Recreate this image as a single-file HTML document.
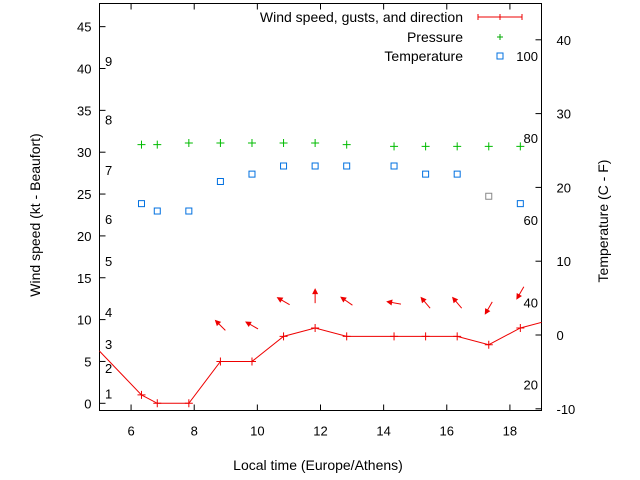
<!DOCTYPE html>
<html><head><meta charset="utf-8"><style>
body{margin:0;background:#fff;}
svg{display:block;font-family:"Liberation Sans",sans-serif;}
</style></head><body>
<svg id="chart" width="640" height="480" xmlns="http://www.w3.org/2000/svg">
<g id="grid"></g>
<g id="marks"></g>
</svg>
<script>
const times=[6.33,6.83,7.83,8.83,9.83,10.83,11.83,12.83,14.33,15.33,16.33,17.33,18.33];
const windTimes=[4.83,6.33,6.83,7.83,8.83,9.83,10.83,11.83,12.83,14.33,15.33,16.33,17.33,18.33,19.33];
const windSpeed=[6.9,1,0,0,5,5,8,9,8,8,8,8,7,9,10];
const pressure=[30.9,30.9,31.1,31.1,31.1,31.1,31.1,30.9,30.7,30.7,30.7,30.7,30.7];
const temperature=[17.8,16.8,16.8,20.8,21.8,22.9,22.9,22.9,22.9,21.8,21.8,18.8,17.8];
const arrowTimes=[8.83,9.83,10.83,11.83,12.83,14.33,15.33,16.33,17.33,18.33];
const arrowLevel=[9.3,9.3,12.2,12.8,12.2,12.0,12.0,12.0,11.4,13.2];
const arrowDir=[315,300,300,0,305,280,320,320,210,210];
const xTicks=[6,8,10,12,14,16,18];
const yTicks=[0,5,10,15,20,25,30,35,40,45];
const y2Ticks=[-10,0,10,20,30,40];
const beaufortLabels=["1","2","3","4","5","6","7","8","9"];
const beaufortKt=[1.2,4.2,7.1,10.9,17,22,27.9,33.9,40.9];
const fLabels=["20","40","60","80","100"];
const fValues=[-6.7,4.4,15.6,26.7,37.8];

const L=99.5,R=541.5,T=3.5,B=410.5;
const X=t=>L+(t-5)*31.57;
const Y=v=>403.3-v*8.37;
const Y2=c=>335-c*7.38;
const NS="http://www.w3.org/2000/svg";
const g=document.getElementById('grid'),m=document.getElementById('marks');
function el(tag,attrs,parent,txt){const e=document.createElementNS(NS,tag);for(const k in attrs)e.setAttribute(k,attrs[k]);if(txt!=null)e.textContent=txt;parent.appendChild(e);return e;}

let e=el('rect',{x:L,y:T,width:R-L,height:B-T,fill:'none',stroke:'#000','stroke-width':1},g);


xTicks.forEach(t=>{const x=X(t);
 el('line',{x1:x,y1:B,x2:x,y2:B-6,stroke:'#000'},g);
 el('line',{x1:x,y1:T,x2:x,y2:T+6,stroke:'#000'},g);
 const tx=el('text',{x:x,y:B+25,'text-anchor':'middle','font-size':13},g,String(t));
 
 
});
yTicks.forEach(v=>{const y=Y(v);
 el('line',{x1:L,y1:y,x2:L+6,y2:y,stroke:'#000'},g);
 const tx=el('text',{x:L-8,y:y+5,'text-anchor':'end','font-size':13},g,String(v));
 
 
});
y2Ticks.forEach(v=>{const y=Y2(v);
 el('line',{x1:R,y1:y,x2:R-6,y2:y,stroke:'#000'},g);
 const tx=el('text',{x:R+15,y:y+5,'text-anchor':'start','font-size':13},g,String(v));
 
 
});
beaufortLabels.forEach((s,i)=>{const tx=el('text',{x:105,y:Y(beaufortKt[i])+5,'font-size':13},g,s);
 
 });
fLabels.forEach((s,i)=>{const tx=el('text',{x:538,y:Y2(fValues[i])+5,'text-anchor':'end','font-size':13},g,s);
 
 });
let t1=el('text',{x:318,y:470,'text-anchor':'middle','font-size':14},g,'Local time (Europe/Athens)');


let t2=el('text',{x:40,y:215,'text-anchor':'middle','font-size':14,transform:'rotate(-90 40 215)'},g,'Wind speed (kt - Beaufort)');


let t3=el('text',{x:608,y:221,'text-anchor':'middle','font-size':14,transform:'rotate(-90 608 221)'},g,'Temperature (C - F)');



const lg=el('g',{},g);


el('text',{x:463,y:22,'text-anchor':'end','font-size':14},lg,'Wind speed, gusts, and direction');
el('text',{x:463,y:42,'text-anchor':'end','font-size':14},lg,'Pressure');
el('text',{x:463,y:61,'text-anchor':'end','font-size':14},lg,'Temperature');
el('path',{d:'M478,17H522M478,14V20M522,14V20M500,14V20',stroke:'#e00',fill:'none'},lg);
el('path',{d:'M497,37H503M500,34V40',stroke:'#0a0',fill:'none'},lg);
el('rect',{x:497,y:53,width:6,height:6,stroke:'#0070e0',fill:'none'},lg);

const defs=el('defs',{},document.getElementById('chart'));
const cp=el('clipPath',{id:'clip'},defs);
el('rect',{x:L,y:T,width:R-L,height:B-T},cp);
m.setAttribute('clip-path','url(#clip)');

let d=windTimes.map((t,i)=>(i?'L':'M')+X(t)+','+Y(windSpeed[i])).join('');
let wl=el('path',{d:d,stroke:'#e00',fill:'none','stroke-width':1},m);


windTimes.forEach((t,i)=>{const x=X(t),y=Y(windSpeed[i]);
 const p=el('path',{d:`M${x-4},${y}H${x+4}M${x},${y-4}V${y+4}`,stroke:'#e00'},m);
 
 });
times.forEach((t,i)=>{const x=X(t),y=Y(pressure[i]);
 const p=el('path',{d:`M${x-4},${y}H${x+4}M${x},${y-4}V${y+4}`,stroke:'#0b0'},m);
 
 });
times.forEach((t,i)=>{const x=X(t),y=Y2(temperature[i]);
 const r=el('rect',{x:x-3,y:y-3,width:6,height:6,stroke:i==11?'#888':'#0070e0',fill:'none'},m);
 
 });
arrowTimes.forEach((t,i)=>{const x=X(t),y=Y(arrowLevel[i]);
 const a=el('g',{transform:`translate(${x},${y}) rotate(${arrowDir[i]})`},m);
 
 
 el('line',{x1:0,y1:7,x2:0,y2:-6,stroke:'#e00'},a);
 el('path',{d:'M0,-8L-3,-2L3,-2Z',fill:'#e00'},a);
});
</script>
</body></html>
